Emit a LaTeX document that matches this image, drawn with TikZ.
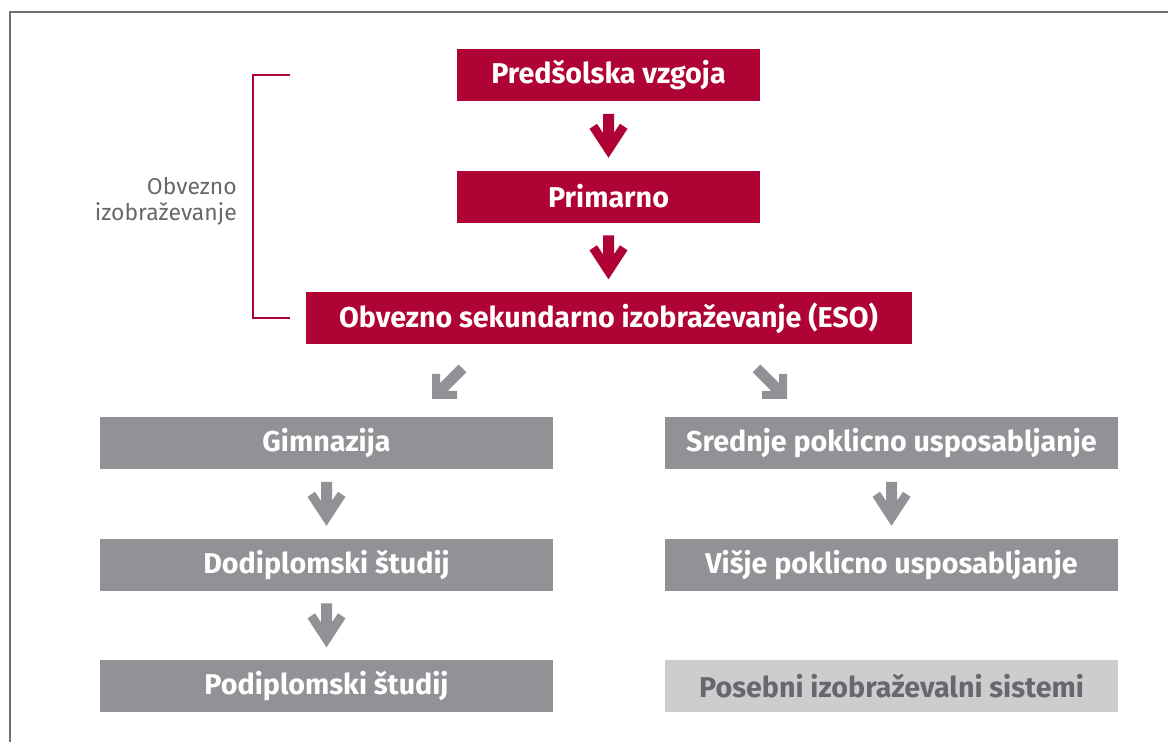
\documentclass[tikz,border=0pt]{standalone}
\usepackage{fontspec}
\setmainfont{Fira Sans}
\usetikzlibrary{positioning,calc}
\definecolor{eduRed}{HTML}{B00335}
\definecolor{eduGray}{HTML}{939196}
\definecolor{eduLight}{HTML}{CDCCCF}
\definecolor{eduText}{HTML}{68676B}
\definecolor{eduFrame}{HTML}{707070}
\newlength\unitpx
\setlength\unitpx{0.75pt}
\tikzset{
	level/.style = {rectangle, inner sep=0pt, minimum height=52\unitpx,
		text=white, font=\fontsize{21.5}{25}\selectfont\bfseries},
	redbox/.style = {level, fill=eduRed, minimum width=303\unitpx},
	esobox/.style = {level, fill=eduRed, minimum width=606\unitpx},
	graybox/.style = {level, fill=eduGray, minimum width=453\unitpx},
	lightbox/.style = {graybox, fill=eduLight, text=eduText},
	bracket/.style = {draw=eduRed, line width=1.2pt},
	frame/.style = {draw=eduFrame, line width=1.6pt},
	droparrow/.pic = {
		\fill[pic actions] (0,22) -- (19,-7) -- (11.5,-12) -- (5.5,-3) -- (5.5,-22)
			-- (-5.5,-22) -- (-5.5,-3) -- (-11.5,-12) -- (-19,-7) -- cycle;
	},
	slantarrow/.pic = {
		\fill[pic actions] (-17.5,17.5) -- (-17.5,-7.5) -- (-9.5,-7.5) -- (-9.5,1.7)
			-- (9.1,-16.9) -- (16.9,-9.1) -- (-1.7,9.5) -- (7.5,9.5) -- (7.5,17.5) -- cycle;
	}
}

\begin{document}
\begin{tikzpicture}[x=0.75pt, y=-0.75pt, node distance=51.75pt]
\useasboundingbox (0,0) rectangle (1168,742);
\draw[frame] (10,743) -- (10,12) -- (1169,12);
%----------------------------------------------------------------------------
% Compulsory stages
\node (pred) [redbox] at (608.5,75) {Predšolska vzgoja};
\node (prim) [redbox, below=of pred] {Primarno};
\node (eso) [esobox, below=of prim] {Obvezno sekundarno izobraževanje (ESO)};

%----------------------------------------------------------------------------
% Two branches
\node (gim) [graybox] at (326.5,443) {Gimnazija};
\node (dodi) [graybox, below=of gim] {Dodiplomski študij};
\node (podi) [graybox, below=of dodi] {Podiplomski študij};

\node (sred) [graybox] at (891.5,443) {Srednje poklicno usposabljanje};
\node (visje) [graybox, below=of sred] {Višje poklicno usposabljanje};
\node (pos) [lightbox, below=of visje] {Posebni izobraževalni sistemi};

%----------------------------------------------------------------------------
% Arrows
\pic[fill=eduRed] at ($(pred.south)!0.5!(prim.north)$) {droparrow};
\pic[fill=eduRed] at ($(prim.south)!0.5!(eso.north)$) {droparrow};
\pic[fill=eduGray] at ($(eso.south)+(-159,37)$) {slantarrow};
\pic[fill=eduGray, xscale=-1] at ($(eso.south)+(161,37)$) {slantarrow};
\pic[fill=eduGray] at ($(gim.south)!0.5!(dodi.north)$) {droparrow};
\pic[fill=eduGray] at ($(dodi.south)!0.5!(podi.north)$) {droparrow};
\pic[fill=eduGray] at ($(sred.south)!0.5!(visje.north)$) {droparrow};

%----------------------------------------------------------------------------
% Bracket
\coordinate (brkL) at (253,196);
\coordinate (brkR) at (290,196);
\draw[bracket] (brkR |- pred.west) -- (brkL |- pred.west) -- (brkL |- eso.west) -- (brkR |- eso.west);
\node (oblig) [anchor=east, align=right, text=eduText, font=\fontsize{17.2}{19.5}\selectfont, inner sep=0pt]
	at ($(brkL)+(-16,5)$) {Obvezno\\izobraževanje};

\end{tikzpicture}
\end{document}
